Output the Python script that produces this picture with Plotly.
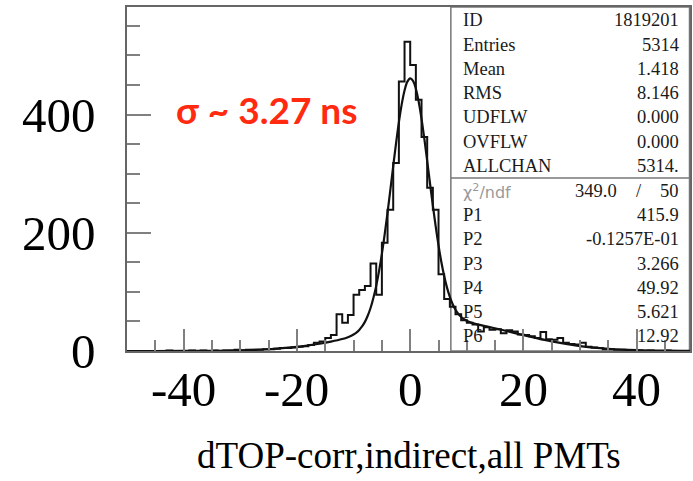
import plotly.graph_objects as go

# ---------------- data ----------------
BIN_LOW = list(range(-50, 50))          # low edges of 1-unit bins
COUNTS = [
    0, 0, 0, 0, 0, 0, 0, 1, 0, 0, 0, 1, 0, 1, 0, 1, 0, 1,          # -50 .. -33
    1, 2, 1, 2, 2, 2, 3, 3, 4, 5, 5, 6, 7, 8, 10, 14, 16,          # -32 .. -16
    22, 27, 62, 48, 61, 95, 103, 110, 148, 95, 183, 239, 318, 456, 523,  # -15 .. -1
    484, 425, 362, 276, 239, 130, 88, 75, 62, 52,                   # 0 .. 9
    48, 45, 33, 40, 36, 37, 30, 35, 33, 28,                         # 10 .. 19
    27, 25, 22, 32, 20, 19, 22, 14, 12, 11,                         # 20 .. 29
    14, 7, 6, 5, 3, 3, 2, 2, 1, 1,                                  # 30 .. 39
    1, 0, 1, 0, 0, 1, 0, 0, 0, 0,                                   # 40 .. 49
]
BIN_HIGH_END = 50

FIT_X = [-50, -45, -40, -35, -30, -25, -20, -18, -16, -14,
         -12, -11, -10, -9.5, -9, -8.5, -8, -7.5, -7, -6.5,
         -6, -5.5, -5, -4.5, -4, -3.5, -3, -2.5, -2, -1.5,
         -1, -0.5, 0, 0.5, 1, 1.5, 2, 2.5, 3, 3.5,
         4, 4.5, 5, 5.5, 6, 6.5, 7, 7.5, 8, 8.5,
         9, 9.5, 10, 11, 12, 14, 16, 18, 20, 25,
         30, 35, 40, 45, 50]
FIT_Y = [0.005, 0.02, 0.10, 0.36, 1.1, 3.0, 7.0, 9.4, 12.3, 15.8,
         20.2, 23.3, 27.9, 31.2, 35.7, 41.6, 49.3, 59.6, 72.8, 89.6,
         110.2, 135.2, 164.4, 197.7, 234.2, 273.1, 312.7, 351.3, 386.8, 417.2,
         440.7, 455.7, 461.3, 457.2, 443.7, 421.7, 392.8, 358.8, 321.6, 283.4,
         245.9, 210.7, 178.7, 150.6, 126.8, 107.2, 91.4, 79.2, 69.8, 62.8,
         57.6, 53.8, 51.0, 47.2, 44.7, 40.5, 36.2, 31.6, 26.9, 16.2,
         8.4, 3.8, 1.45, 0.48, 0.14]

X_TICKS = [-40, -20, 0, 20, 40]
X_TICK_LABELS = ["-40", "-20", "0", "20", "40"]
Y_TICKS = [0, 200, 400]
Y_TICK_LABELS = ["0", "200", "400"]
X_TITLE = "dTOP-corr,indirect,all PMTs"
SIGMA_TEXT = "σ ~ 3.27 ns"

STAT_NAMES = ["ID", "Entries", "Mean", "RMS", "UDFLW", "OVFLW", "ALLCHAN"]
STAT_VALUES = ["1819201", "5314", "1.418", "8.146", "0.000", "0.000", "5314."]
PAR_NAMES = ["P1", "P2", "P3", "P4", "P5", "P6"]
PAR_VALUES = ["415.9", "-0.1257E-01", "3.266", "49.92", "5.621", "12.92"]
CHI2 = "349.0"
NDF = "50"

# ---------------- layout helpers ----------------
W, H = 693, 481
L, R, T, B = 127, 1, 7, 130
PW, PH = W - L - R, H - T - B


def px(xp):
    return (xp - L) / PW


def py(yp):
    return (H - B - yp) / PH


SERIF = "Liberation Serif, Times New Roman, serif"

fig = go.Figure()

step_x = BIN_LOW + [BIN_HIGH_END]
step_y = COUNTS + [COUNTS[-1]]
fig.add_trace(go.Scatter(x=step_x, y=step_y, mode="lines", line_shape="hv",
                         line=dict(color="#111", width=2), showlegend=False))
fig.add_trace(go.Scatter(x=FIT_X, y=FIT_Y, mode="lines", line_shape="spline",
                         line=dict(color="#111", width=2.2), showlegend=False))

tickc = "#808080"
fig.update_xaxes(range=[-50, 49.4], tickvals=X_TICKS, ticks="inside", ticklen=22,
                 tickwidth=1.5, tickcolor=tickc, showticklabels=False,
                 minor=dict(dtick=5, tick0=0, ticks="inside", ticklen=11,
                            tickwidth=1.5, tickcolor=tickc),
                 showline=True, mirror=True, linecolor="#666", linewidth=1.5,
                 showgrid=False, zeroline=False)
fig.update_yaxes(range=[0, 582], tickvals=Y_TICKS, ticktext=Y_TICK_LABELS,
                 ticks="inside", ticklen=24,
                 tickwidth=1.5, tickcolor=tickc,
                 minor=dict(dtick=50, tick0=0, ticks="inside", ticklen=13,
                            tickwidth=1.5, tickcolor=tickc),
                 showline=True, mirror=True, linecolor="#666", linewidth=1.5,
                 showgrid=False, zeroline=False,
                 tickfont=dict(family=SERIF, size=49, color="#000"),
                 ticklabelstandoff=20)

shapes = [
    dict(type="rect", xref="paper", yref="paper", x0=px(452), x1=px(691.5),
         y0=0, y1=1, line=dict(color="#777", width=1.5), layer="below"),
    dict(type="line", xref="paper", yref="paper", x0=px(452), x1=px(691.5),
         y0=py(178), y1=py(178), line=dict(color="#777", width=1.5)),
]

ann = []
for tv, tt in zip(X_TICKS, X_TICK_LABELS):
    ann.append(dict(text=tt, xref="x", yref="paper", x=tv, y=py(389),
                    xanchor="center", yanchor="middle", showarrow=False,
                    font=dict(family=SERIF, size=49, color="#000")))
ann.append(dict(text=X_TITLE, xref="paper", yref="paper", x=px(410), y=py(456),
                xanchor="center", yanchor="middle", showarrow=False,
                font=dict(family=SERIF, size=37, color="#000")))
ann.append(dict(text="<b>" + SIGMA_TEXT + "</b>", xref="paper", yref="paper",
                x=px(267), y=py(110), xanchor="center", yanchor="middle",
                showarrow=False,
                font=dict(family="Lato, Open Sans, sans-serif", size=37, color="#FF2A10")))

sfont = dict(family=SERIF, size=18.5, color="#1a1a1a")
for i, (n, v) in enumerate(zip(STAT_NAMES, STAT_VALUES)):
    yy = py(20.5 + 24.2 * i)
    ann.append(dict(text=n, xref="paper", yref="paper", x=px(462), y=yy,
                    xanchor="left", yanchor="middle", showarrow=False, font=sfont))
    ann.append(dict(text=v, xref="paper", yref="paper", x=px(683), y=yy,
                    xanchor="right", yanchor="middle", showarrow=False, font=sfont))

ychi = py(191)
ann.append(dict(text="χ<sup>2</sup>/ndf", xref="paper", yref="paper", x=px(462), y=ychi,
                xanchor="left", yanchor="middle", showarrow=False,
                font=dict(family="DejaVu Sans, sans-serif", size=16, color="#999")))
ann.append(dict(text=CHI2, xref="paper", yref="paper", x=px(621), y=ychi,
                xanchor="right", yanchor="middle", showarrow=False, font=sfont))
ann.append(dict(text="/", xref="paper", yref="paper", x=px(641), y=ychi,
                xanchor="center", yanchor="middle", showarrow=False, font=sfont))
ann.append(dict(text=NDF, xref="paper", yref="paper", x=px(683), y=ychi,
                xanchor="right", yanchor="middle", showarrow=False, font=sfont))
for i, (n, v) in enumerate(zip(PAR_NAMES, PAR_VALUES)):
    yy = py(215.2 + 24.2 * i)
    ann.append(dict(text=n, xref="paper", yref="paper", x=px(462), y=yy,
                    xanchor="left", yanchor="middle", showarrow=False, font=sfont))
    ann.append(dict(text=v, xref="paper", yref="paper", x=px(683), y=yy,
                    xanchor="right", yanchor="middle", showarrow=False, font=sfont))

fig.update_layout(width=W, height=H, margin=dict(l=L, r=R, t=T, b=B),
                  paper_bgcolor="white", plot_bgcolor="white",
                  shapes=shapes, annotations=ann, showlegend=False)

fig.write_html("out.html")
